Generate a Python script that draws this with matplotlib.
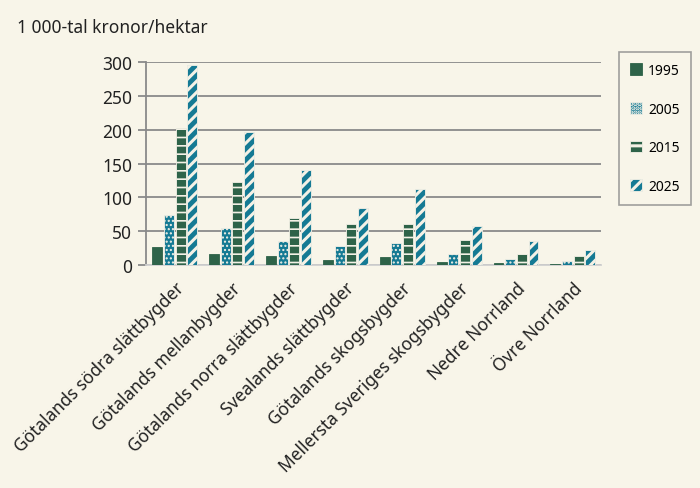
import numpy as np
import matplotlib
matplotlib.use('Agg')
import matplotlib.pyplot as plt

regions = ['Götalands södra slättbygder', 'Götalands mellanbygder',
           'Götalands norra slättbygder', 'Svealands slättbygder',
           'Götalands skogsbygder', 'Mellersta Sveriges skogsbygder',
           'Nedre Norrland', 'Övre Norrland']
years = ['1995', '2005', '2015', '2025']

values_1995 = [27, 17, 13, 8, 12, 5, 3, 2]
values_2005 = [74, 55, 36, 28, 33, 16, 9, 6]
values_2015 = [202, 122, 70, 60, 61, 37, 17, 14]
values_2025 = [295, 196, 140, 85, 113, 57, 35, 22]

y_ticks = [0, 50, 100, 150, 200, 250, 300]

BG = '#f8f5e9'
GREEN = '#2e6349'
TEAL = '#157a94'

plt.rcParams['font.family'] = ['Noto Sans', 'DejaVu Sans']

fig = plt.figure(figsize=(7, 4.89), dpi=100, facecolor=BG)
ax = fig.add_axes([0.209, 0.456, 0.65, 0.415])
ax.set_facecolor(BG)

series = [values_1995, values_2005, values_2015, values_2025]
colors = [GREEN, TEAL, GREEN, TEAL]
hatches = [None, '....', '--', '///']
hatch_widths = [1.0, 1.0, 1.2, 2.2]

x = np.arange(len(regions))
pitch = 0.205
width = 0.175
for i, (vals, col, hat, year) in enumerate(zip(series, colors, hatches, years)):
    offset = (i - 1.5) * pitch
    plt.rcParams['hatch.linewidth'] = hatch_widths[i]
    bars = ax.bar(x + offset, vals, width, color=col, hatch=hat,
                  edgecolor='#f4f1e6' if hat else col, linewidth=0.6,
                  label=year, zorder=3)
    for b in bars:
        if hasattr(b, 'set_hatch_linewidth'):
            b.set_hatch_linewidth(hatch_widths[i])

ax.set_xlim(-0.5, len(regions) - 0.5)
ax.set_ylim(0, 300)
ax.set_yticks(y_ticks)
ax.yaxis.grid(True, color='#8a8a8a', linewidth=1.3, zorder=0)
ax.set_axisbelow(True)

for side in ['top', 'right']:
    ax.spines[side].set_visible(False)
ax.spines['left'].set_color('#8a8a8a')
ax.spines['left'].set_linewidth(1.3)
ax.spines['bottom'].set_color('#d0d0d0')
ax.spines['bottom'].set_linewidth(1.3)

ax.tick_params(axis='y', length=6, color='#8a8a8a', width=1.3,
               labelsize=12.5, labelcolor='#222222', pad=4)
ax.tick_params(axis='x', length=0, pad=10)
ax.set_xticks(x)
ax.set_xticklabels(regions, rotation=45, ha='right', rotation_mode='anchor',
                   fontsize=12.5, color='#222222')

fig.text(0.024, 0.925, '1 000-tal kronor/hektar', fontsize=12.5,
         color='#222222', va='bottom')

leg = fig.legend(loc='upper left', bbox_to_anchor=(0.884, 0.892),
                 frameon=True, fancybox=False, fontsize=10,
                 handlelength=0.9, handleheight=0.9, labelspacing=1.7,
                 handletextpad=0.4, borderpad=0.8, borderaxespad=0)
leg.get_frame().set_edgecolor('#8a8a8a')
leg.get_frame().set_linewidth(1.2)
leg.get_frame().set_facecolor(BG)

fig.savefig('out.png', dpi=100, facecolor=BG)
